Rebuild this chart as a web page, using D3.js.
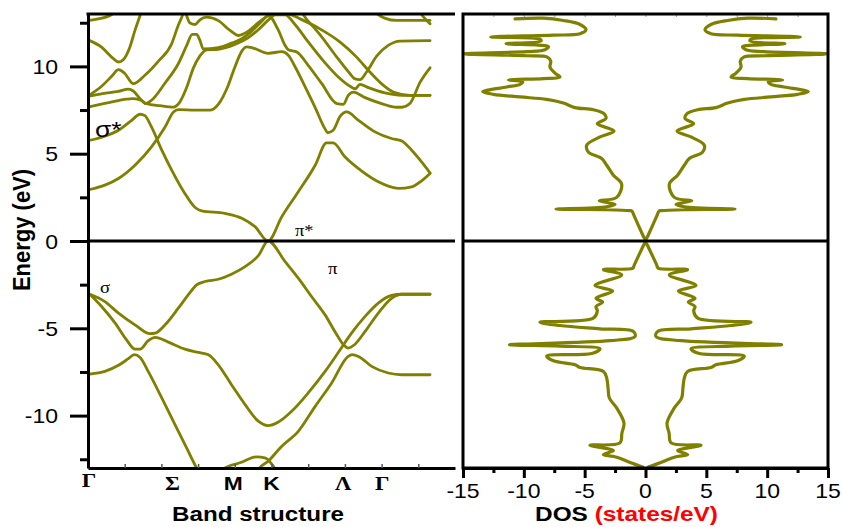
<!DOCTYPE html>
<html>
<head>
<meta charset="utf-8">
<script src="https://cdn.jsdelivr.net/npm/d3@7"></script>
<style>
  html, body { margin: 0; padding: 0; background: #fff; }
  svg { display: block; }
</style>
</head>
<body>
<svg id="chart" width="843" height="527"></svg>
<script>
// ---------- axis values ----------
const energyDomain = [-13, 13];
const kDomain = [0, 10];
const dosDomain = [-15, 15];
const energyTicks = [-10, -5, 0, 5, 10];
const energyMinorTicks = [-12.5, -7.5, -2.5, 2.5, 7.5, 12.5];
const kTicks = [1, 2, 3, 4, 5, 6, 7, 8, 9];
const dosTicks = [-15, -10, -5, 0, 5, 10, 15];
const dosMinorTicks = [-12.5, -7.5, -2.5, 2.5, 7.5, 12.5];
const dosTopTicks = [-12.5, -10, -7.5, -5, -2.5, 0, 2.5, 5, 7.5, 10, 12.5];

// high-symmetry points along the k path
const kPointNames = ["Γ", "Σ", "M", "K", "Λ", "Γ"];
const kPointPos = [0.03, 2.3, 3.96, 5.0, 6.95, 8.02];
const kPointSerif = [true, true, false, false, true, true];

// ---------- band structure, [k, E (eV)] ----------
// valence bands
const bandPi = [[0.05,-3.05],[0.46,-3.47],[0.83,-4.13],[1.28,-4.8],[1.69,-5.31],[1.83,-5.28],[2.10,-4.8],[2.46,-3.85],[2.73,-3.09],[2.96,-2.51],[3.19,-2.32],[3.55,-2.19],[3.91,-1.90],[4.28,-1.47],[4.64,-0.84],[4.91,0],[5.37,-1.18],[5.73,-2.13],[6.09,-3.18],[6.46,-4.23],[6.78,-5.37],[6.96,-5.94],[7.09,-6.13],[7.26,-5.94],[7.55,-5.18],[7.91,-4.13],[8.27,-3.28],[8.55,-3.05],[9.32,-3.05]];
const bandSigma1 = [[0.05,-3.05],[0.37,-3.75],[0.74,-4.70],[1.05,-5.66],[1.28,-6.19],[1.42,-6.19],[1.64,-5.71],[1.83,-5.52],[2.19,-5.79],[2.64,-6.19],[3.01,-6.38],[3.28,-6.51],[3.55,-7.09],[3.91,-8.23],[4.28,-9.37],[4.64,-10.32],[4.90,-10.57],[5.19,-10.36],[5.55,-9.75],[6.0,-8.70],[6.46,-7.47],[6.87,-6.23],[7.18,-5.28],[7.55,-4.32],[7.91,-3.56],[8.27,-3.12],[8.55,-3.05],[9.32,-3.05]];
const bandSigma2 = [[0.05,-7.62],[0.46,-7.47],[0.83,-7.12],[1.10,-6.74],[1.26,-6.51],[1.42,-6.67],[1.64,-7.47],[2.01,-8.99],[2.37,-10.51],[2.73,-12.04],[2.98,-13.1],[3.05,-13.4]];
const bandLow1 = [[3.55,-13.6],[3.69,-13.05],[4.14,-12.7],[4.60,-12.36],[4.82,-12.42],[5.10,-13.05],[5.2,-13.4]];
const bandLow2 = [[4.55,-13.5],[4.64,-13.1],[4.91,-12.61],[5.28,-11.75],[5.73,-10.9],[6.19,-9.47],[6.64,-8.13],[7.09,-6.61],[7.20,-6.51],[7.37,-6.61],[7.73,-7.18],[8.18,-7.56],[8.55,-7.66],[9.32,-7.66]];

// conduction bands
const bandPiStar = [[0.05,5.77],[0.46,6.0],[0.83,6.34],[1.19,6.91],[1.42,7.26],[1.55,7.18],[1.73,6.53],[2.01,5.2],[2.28,4.06],[2.64,2.72],[2.92,1.92],[3.10,1.73],[3.73,1.58],[4.19,1.30],[4.55,0.82],[4.91,0],[5.28,1.39],[5.73,2.82],[6.19,4.34],[6.50,5.62],[6.68,5.62],[7.0,4.82],[7.46,4.0],[7.91,3.39],[8.46,3.01],[8.82,3.10],[9.09,3.45],[9.32,3.87]];
const bandC2 = [[0.05,2.95],[0.46,3.2],[0.83,3.58],[1.28,4.34],[1.73,5.39],[2.10,6.53],[2.33,7.39],[2.46,7.52],[2.92,7.49],[3.32,7.49],[3.55,7.83],[3.82,8.91],[4.0,9.95],[4.2,10.9],[4.32,11.12],[4.5,11.05],[4.91,10.75],[5.28,10.84],[5.46,10.63],[5.65,9.95],[5.9,8.9],[6.2,7.6],[6.45,6.45],[6.53,6.2],[6.68,6.34],[6.87,7.14],[7.05,7.39],[7.37,6.91],[7.82,6.25],[8.27,5.87],[8.55,5.73],[8.82,5.2],[9.09,4.53],[9.32,3.9]];
const bandC3 = [[0.03,7.68],[0.6,7.94],[1.05,8.12],[1.2,8.15],[1.42,8.08],[1.6,7.86],[1.96,7.75],[2.33,7.67],[2.5,7.95],[2.69,8.8],[2.87,9.9],[3.05,10.6],[3.23,10.95],[3.55,10.98],[4.0,11.25],[4.37,11.65],[4.64,12.1],[4.91,12.65],[5.1,12.95],[5.37,12.95],[5.64,12.4],[6.0,11.4],[6.46,10.2],[6.82,9.39],[7.14,8.86],[7.28,8.72],[7.41,8.97],[7.64,8.78],[8.09,8.48],[8.55,8.34],[9.32,8.34]];
const bandC4 = [[0.03,8.29],[0.4,8.44],[0.83,8.57],[1.1,8.70],[1.235,8.59],[1.42,8.15],[1.57,7.87],[1.73,8.06],[2.10,9.05],[2.46,10.15],[2.69,11.2],[2.84,11.83],[2.96,11.83],[3.05,11.49],[3.14,11.0],[3.55,11.07],[3.91,11.33],[4.19,11.58],[4.46,12.02],[4.73,12.57],[4.91,12.91],[5.19,12.06],[5.37,11.2],[5.46,10.95],[5.69,10.82],[6.0,10.06],[6.37,9.01],[6.78,7.87],[6.96,7.83],[7.09,8.34],[7.23,8.53],[7.55,8.21],[8.0,7.87],[8.41,7.66],[8.55,7.66],[8.77,7.87],[9.05,9.10],[9.32,9.92]];
const bandC5 = [[0.03,8.34],[0.37,8.86],[0.645,9.43],[0.83,9.81],[0.99,9.62],[1.235,9.01],[1.55,9.49],[1.92,10.30],[2.28,11.30],[2.45,12.3],[2.58,12.95],[2.63,13.25],[2.68,12.95],[2.78,12.48],[2.92,12.40],[3.05,12.67],[3.23,12.82],[3.55,12.62],[3.87,12.06],[4.10,11.77],[4.37,12.02],[4.64,12.5],[4.91,12.9],[5.2,13.05],[5.5,12.98],[5.78,12.72],[6.32,12.15],[6.87,11.39],[7.32,10.53],[7.68,9.68],[8.05,8.91],[8.32,8.53],[8.77,8.34],[9.32,8.34]];
const bandC6 = [[0.03,11.49],[0.37,11.1],[0.645,10.53],[0.83,10.25],[0.96,10.38],[1.14,11.1],[1.28,12.06],[1.42,12.91],[1.5,13.4]];
const bandC7 = [[0.03,12.63],[0.28,12.72],[0.645,12.97],[0.8,13.4]];
const bandC8 = [[5.75,13.4],[5.87,12.95],[6.19,12.15],[6.32,11.82],[6.78,10.53],[7.14,9.58],[7.26,9.30],[7.41,9.24],[7.59,9.68],[7.87,10.6],[8.18,11.2],[8.5,11.45],[9.32,11.47]];
const bandC9 = [[7.7,13.4],[7.91,12.97],[8.1,12.75],[8.41,12.63],[9.32,12.63]];
const bandC10 = [[8.98,13.4],[9.09,12.97],[9.2,12.7],[9.32,12.44]];

const bands = [bandPi, bandSigma1, bandSigma2, bandLow1, bandLow2,
               bandPiStar, bandC2, bandC3, bandC4, bandC5, bandC6, bandC7, bandC8, bandC9, bandC10];

// ---------- density of states, [E (eV), states/eV] for one spin channel ----------
const dosSpin = [[12.72,10.72],[12.76,8.39],[12.63,6.75],[12.4,5.38],[12.1,4.89],[11.87,5.38],[11.79,7.57],[11.68,12.72],[11.56,8.67],[11.45,8.59],[11.30,11.46],[11.22,8.81],[11.14,7.98],[10.95,8.26],[10.84,9.76],[10.72,14.91],[10.61,9.76],[10.53,8.07],[10.30,7.79],[9.96,7.85],[9.62,7.44],[9.39,7.03],[9.30,8.39],[9.22,11.27],[9.12,10.09],[8.97,10.31],[8.82,11.41],[8.55,13.38],[8.4,12.50],[8.25,10.31],[8.11,8.12],[7.90,6.75],[7.64,5.79],[7.52,4.29],[7.30,3.41],[7.01,3.25],[6.72,3.96],[6.30,2.59],[5.96,3.74],[5.49,4.83],[5.10,4.70],[4.72,3.60],[4.34,3.19],[3.77,2.64],[3.26,1.96],[2.50,2.37],[2.30,3.80],[2.11,2.51],[1.96,3.19],[1.83,7.35],[1.79,3.19],[1.74,1.30],[1.72,1.12],[1.45,0.94],[0.3,0.2],[0,0],[-0.3,0.2],[-1.35,0.91],[-1.55,1.04],[-1.64,3.46],[-1.94,1.96],[-2.55,4.15],[-2.86,2.70],[-3.28,4.07],[-3.50,3.52],[-3.75,4.07],[-4.0,3.96],[-4.42,4.29],[-4.65,8.67],[-4.84,7.03],[-5.03,3.74],[-5.18,1.0],[-5.47,0.86],[-5.71,2.92],[-5.94,11.19],[-6.02,7.03],[-6.17,3.74],[-6.44,4.42],[-6.59,8.12],[-6.86,7.57],[-7.09,5.79],[-7.24,5.38],[-7.47,3.46],[-7.85,3.19],[-8.4,3.08],[-8.99,2.97],[-9.56,2.37],[-10.42,1.77],[-11.0,1.94],[-11.56,2.10],[-11.70,4.56],[-12.0,2.64],[-12.23,3.46],[-12.38,2.37],[-12.7,1.2],[-12.95,0.23]];

// ---------- drawing ----------
const OLIVE = "#808000";
const SANS = "'Liberation Sans', Arial, sans-serif";
const SERIF = "'Liberation Serif', 'Times New Roman', serif";
const svg = d3.select("#chart");

const xK = d3.scaleLinear(kDomain, [88, 455]);
const yE = d3.scaleLinear(energyDomain, [468, 14]);
const xD = d3.scaleLinear(dosDomain, [463, 828]);

function addText(g, str, x, y, o) {
  const t = g.append("text")
    .attr("transform", `translate(${x},${y}) scale(${o.sx || 1},1)` + (o.rot ? ` rotate(${o.rot})` : ""))
    .attr("text-anchor", o.anchor || "middle")
    .attr("font-family", o.family || SANS)
    .attr("font-size", o.size)
    .attr("font-weight", o.weight || "normal")
    .attr("fill", o.fill || "#000");
  if (str !== null) t.text(str);
  return t;
}

const defs = svg.append("defs");
defs.append("clipPath").attr("id", "clip-band").append("rect")
  .attr("x", xK(0)).attr("y", yE(13))
  .attr("width", xK(10) - xK(0)).attr("height", yE(-13) - yE(13));
defs.append("clipPath").attr("id", "clip-dos").append("rect")
  .attr("x", xD(-15)).attr("y", yE(13))
  .attr("width", xD(15) - xD(-15)).attr("height", yE(-13) - yE(13));

// band curves
const bandLine = d3.line().x(d => xK(d[0])).y(d => yE(d[1])).curve(d3.curveMonotoneX);
svg.append("g").attr("clip-path", "url(#clip-band)")
  .selectAll("path").data(bands).join("path")
  .attr("d", bandLine)
  .attr("fill", "none").attr("stroke", OLIVE).attr("stroke-width", 2.8)
  .attr("stroke-linejoin", "round").attr("stroke-linecap", "round");

// DOS curves: spin-up to the right, spin-down drawn on the negative side
const dosUpLine = d3.line().x(d => xD(d[1])).y(d => yE(d[0])).curve(d3.curveCatmullRom.alpha(0.5));
const dosDownLine = d3.line().x(d => xD(-d[1])).y(d => yE(d[0])).curve(d3.curveCatmullRom.alpha(0.5));
const dosG = svg.append("g").attr("clip-path", "url(#clip-dos)");
[dosDownLine, dosUpLine].forEach(gen => {
  dosG.append("path").attr("d", gen(dosSpin))
    .attr("fill", "none").attr("stroke", OLIVE).attr("stroke-width", 3.2)
    .attr("stroke-linejoin", "round").attr("stroke-linecap", "round");
});

// ---- band panel axes ----
const axG = svg.append("g");
function styleAxis(g, w, color) {
  g.selectAll("path.domain").attr("stroke", color || "#000").attr("stroke-width", w);
  g.selectAll(".tick line").attr("stroke", color || "#000").attr("stroke-width", w);
  g.selectAll(".tick text").remove();
}
const yMajor = axG.append("g").attr("transform", `translate(${xK(0)},0)`)
  .call(d3.axisLeft(yE).tickValues(energyTicks).tickSize(18).tickSizeOuter(0).tickFormat(""));
styleAxis(yMajor, 3);
const yMinor = axG.append("g").attr("transform", `translate(${xK(0)},0)`)
  .call(d3.axisLeft(yE).tickValues(energyMinorTicks).tickSize(8).tickSizeOuter(0).tickFormat(""));
styleAxis(yMinor, 3);
yMinor.select("path.domain").remove();

// bottom axis of band panel with small inward ticks
const kAxis = axG.append("g").attr("transform", `translate(0,${yE(-13)})`)
  .call(d3.axisBottom(xK).tickValues(kTicks).tickSize(-4).tickSizeOuter(0).tickFormat(""));
kAxis.selectAll("path.domain").attr("stroke", "#000").attr("stroke-width", 3);
kAxis.selectAll(".tick line").attr("stroke", "#555").attr("stroke-width", 1.5);

// top border and Fermi level line
axG.append("line").attr("x1", xK(0) - 1.5).attr("x2", xK(10)).attr("y1", yE(13)).attr("y2", yE(13))
  .attr("stroke", "#000").attr("stroke-width", 3);
axG.append("line").attr("x1", xK(0)).attr("x2", xK(10)).attr("y1", yE(0)).attr("y2", yE(0))
  .attr("stroke", "#000").attr("stroke-width", 3);

// energy tick labels
energyTicks.forEach(v => {
  addText(axG, String(v), 58, yE(v) + 7.5, { size: 20, sx: 1.15, anchor: "end" });
});

// high-symmetry labels
kPointNames.forEach((n, i) => {
  addText(axG, n, xK(kPointPos[i]), i === 0 ? 487 : 490, {
    size: 19, sx: 1.2, weight: "bold", family: kPointSerif[i] ? SERIF : SANS
  });
});

addText(axG, "Band structure", 258, 521, { size: 20, sx: 1.21, weight: "bold" });
addText(axG, "Energy (eV)", 30, 230, { size: 22, sx: 1.05, weight: "bold", rot: -90 });

// orbital annotations
addText(axG, "σ*", 95, 137, { size: 22, sx: 1.2, anchor: "start" });
addText(axG, "σ", 100, 293, { size: 17, sx: 1.1, anchor: "start", family: SERIF });
addText(axG, "π*", 295, 236, { size: 16, sx: 1.15, anchor: "start", family: SERIF });
addText(axG, "π", 328, 274, { size: 17, sx: 1.1, anchor: "start", family: SERIF });

// ---- DOS panel axes ----
const dG = svg.append("g");
const dMajor = dG.append("g").attr("transform", `translate(0,${yE(-13)})`)
  .call(d3.axisBottom(xD).tickValues(dosTicks).tickSize(10).tickSizeOuter(0).tickFormat(""));
styleAxis(dMajor, 3);
const dMinor = dG.append("g").attr("transform", `translate(0,${yE(-13)})`)
  .call(d3.axisBottom(xD).tickValues(dosMinorTicks).tickSize(5).tickSizeOuter(0).tickFormat(""));
styleAxis(dMinor, 3);
dMinor.select("path.domain").remove();

const dTop = dG.append("g").attr("transform", `translate(0,${yE(13)})`)
  .call(d3.axisTop(xD).tickValues(dosTopTicks).tickSize(-3).tickSizeOuter(0).tickFormat(""));
dTop.selectAll("path.domain").remove();
dTop.selectAll(".tick line").attr("stroke", "#999").attr("stroke-width", 1);

dG.append("rect")
  .attr("x", xD(-15)).attr("y", yE(13))
  .attr("width", xD(15) - xD(-15)).attr("height", yE(-13) - yE(13))
  .attr("fill", "none").attr("stroke", "#000").attr("stroke-width", 3);
dG.append("line").attr("x1", xD(-15)).attr("x2", xD(15)).attr("y1", yE(0)).attr("y2", yE(0))
  .attr("stroke", "#000").attr("stroke-width", 3);

dosTicks.forEach(v => {
  addText(dG, String(v), xD(v), 498, { size: 20, sx: 1.15 });
});

const dosTitle = addText(dG, null, 626.5, 521, { size: 20, sx: 1.22, weight: "bold" });
dosTitle.append("tspan").text("DOS ");
dosTitle.append("tspan").attr("fill", "#ff0000").text("(states/eV)");
</script>
</body>
</html>
